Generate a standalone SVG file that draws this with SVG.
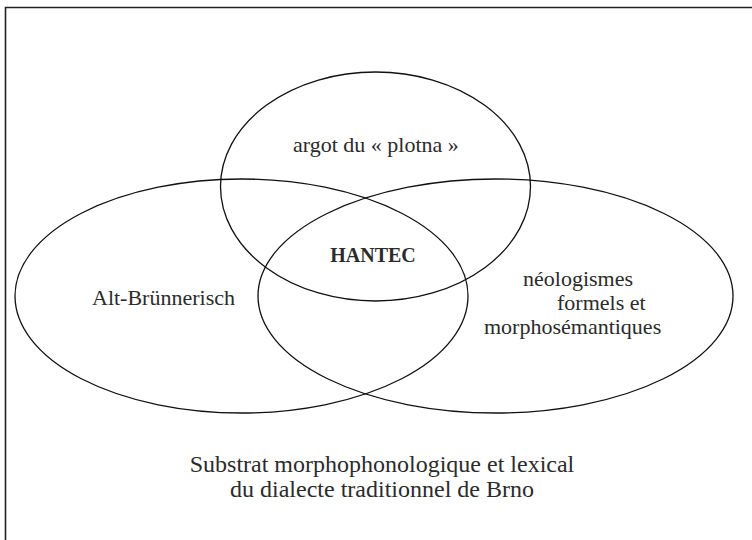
<svg xmlns="http://www.w3.org/2000/svg" width="752" height="540" viewBox="0 0 752 540">
  <style>
    .set { fill: none; stroke: #111; stroke-width: 1.3; }
    .lbl { font-family: "Liberation Serif", "Times New Roman", serif; font-size: 22px; fill: #2b2b2b; }
    .big { font-family: "Liberation Serif", "Times New Roman", serif; font-size: 24px; fill: #2b2b2b; text-anchor: middle; }
    .bold { font-weight: bold; font-size: 20px; text-anchor: middle; }
  </style>
  <rect x="0" y="0" width="752" height="540" fill="#ffffff"/>
  <path id="frame" d="M5.5,540 V7.5 H752" fill="none" stroke="#222" stroke-width="1.6"/>

  <g id="argot">
    <ellipse class="set" cx="375.5" cy="186.5" rx="155" ry="114.5"/>
    <text class="lbl" x="293" y="152">argot du « plotna »</text>
  </g>
  <g id="alt-brunnerisch">
    <ellipse class="set" cx="241.5" cy="296" rx="226.5" ry="117"/>
    <text class="lbl" x="92" y="305">Alt-Brünnerisch</text>
  </g>
  <g id="neologismes">
    <ellipse class="set" cx="495.5" cy="296" rx="237.5" ry="117"/>
    <text class="lbl" x="523" y="286">néologismes</text>
    <text class="lbl" x="557" y="310">formels et</text>
    <text class="lbl" x="484" y="334">morphosémantiques</text>
  </g>
  <g id="hantec">
    <text class="lbl bold" x="373" y="262">HANTEC</text>
  </g>
  <g id="substrat">
    <text class="big" x="382" y="472">Substrat morphophonologique et lexical</text>
    <text class="big" x="382" y="497">du dialecte traditionnel de Brno</text>
  </g>
</svg>
